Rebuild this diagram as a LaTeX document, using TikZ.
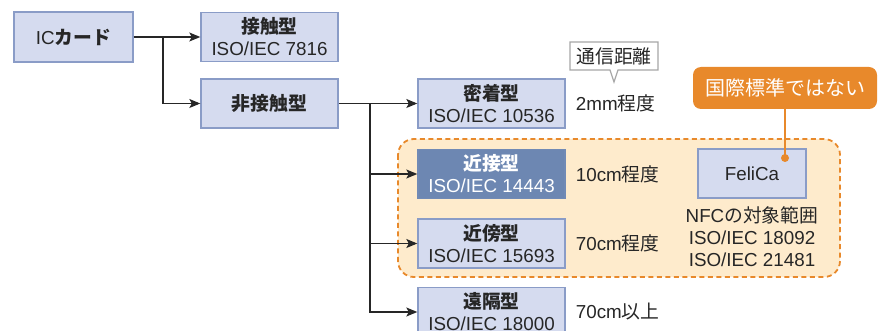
\documentclass[tikz,border=0pt]{standalone}
\usepackage{fontspec}
\setmainfont{Liberation Sans}
\newfontfamily\jp{Noto Sans CJK JP}
\usetikzlibrary{arrows.meta, positioning, shapes.callouts}
\definecolor{boxBlue}{HTML}{D5DBEF}
\definecolor{lineBlue}{HTML}{8A9CC7}
\definecolor{darkBlue}{HTML}{6D87B2}
\definecolor{noteOrange}{HTML}{E8892B}
\definecolor{zoneOrange}{HTML}{FEEBCC}
\definecolor{inkGray}{HTML}{262626}
\newcommand{\jbold}[1]{{\jp\bfseries #1}}

\begin{document}
\begin{tikzpicture}[
        x=1pt, y=-1pt,
        font=\fontsize{18.8}{22}\selectfont, text=inkGray,
        box/.style={draw=lineBlue, line width=1.4pt, fill=boxBlue, align=center,
                    inner sep=0pt, minimum width=147pt, minimum height=49pt},
        arr/.style={-{Stealth[length=11pt, width=9pt, inset=2.5pt]}, line width=1.1pt, draw=inkGray},
        dist/.style={right=10pt of #1, inner sep=0pt}
      ]
      \useasboundingbox (0,0) rectangle (881,331);
      % NFC range
      \draw[noteOrange, line width=1.8pt, dash pattern=on 5pt off 3.5pt,
            fill=zoneOrange, rounded corners=16pt] (398,139) rectangle (840,277);

      \node[box, minimum width=119pt, minimum height=50pt] (ic) at (73.5,37) {IC\jbold{カード}};
      \node[box, minimum width=137pt] (contact) at (269.5,37) {\jbold{接触型}\\ISO/IEC 7816};
      \node[box, minimum width=137pt] (contactless) at (269.5,103.5) {\jbold{非接触型}};

      \node[box] (close)  at (491.5,103.5) {\jbold{密着型}\\ISO/IEC 10536};
      \node[box, fill=darkBlue, draw=darkBlue!85!lineBlue, text=white] (prox) at (491.5,174)
            {\jbold{近接型}\\ISO/IEC 14443};
      \node[box] (vicin)  at (491.5,243.5) {\jbold{近傍型}\\ISO/IEC 15693};
      \node[box] (remote) at (491.5,312) {\jbold{遠隔型}\\ISO/IEC 18000};

      \node[dist=close]  (closeDist)  {2mm{\jp 程度}};
      \node[dist=prox]   (proxDist)   {10cm{\jp 程度}};
      \node[dist=vicin]  (vicinDist)  {70cm{\jp 程度}};
      \node[dist=remote] (remoteDist) {70cm{\jp 以上}};

      \node[rectangle callout, draw=gray!70, line width=1.2pt, fill=white,
            minimum width=88pt, minimum height=28pt, inner sep=0pt,
            callout pointer width=8pt,
            callout absolute pointer={(614,82)}] (distNote) at (614,56) {\jp 通信距離};

      \node[box, minimum width=108pt] (felica) at (752,173.5) {FeliCa};
      \node[align=center, inner sep=0pt] (nfc) at (752,237)
            {NFC{\jp の対象範囲}\\ISO/IEC 18092\\ISO/IEC 21481};

      \node[fill=noteOrange, text=white, rounded corners=8pt, minimum width=184pt,
            minimum height=42pt, font=\fontsize{20}{22}\selectfont\jp] (nonstd) at (785,88)
            {国際標準ではない};
      \coordinate (pin) at (785,158);
      \draw[noteOrange, line width=1.6pt] (nonstd) -- (pin);
      \fill[noteOrange] (pin) circle (4);

      % tree connectors
      \coordinate (split1) at (163,37);
      \coordinate (split2) at (370,103.5);
      \draw[arr] (ic) -- (contact);
      \draw[arr] (split1) |- (contactless);
      \draw[arr] (contactless) -- (close);
      \draw[arr] (split2) |- (prox);
      \draw[arr] (split2) |- (vicin);
      \draw[arr] (split2) |- (remote);
    \end{tikzpicture}
\end{document}
